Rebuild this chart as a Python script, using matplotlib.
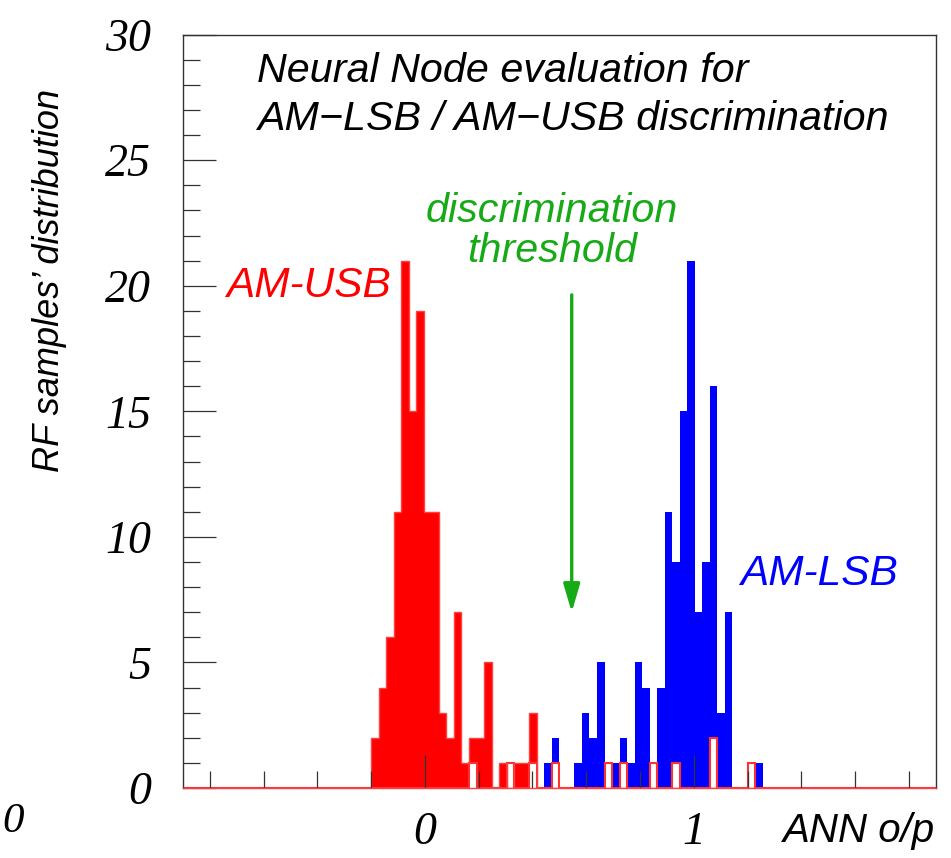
import numpy as np
import matplotlib
matplotlib.use("Agg")
import matplotlib.pyplot as plt
from matplotlib.ticker import MultipleLocator, FixedLocator

# histogram binning (ANN output)
n_bins = 100
x_lo, x_hi = -0.9, 1.9

# AM-USB samples (red), counts from bin 25 on
usb_first_bin = 25
usb_counts = [2, 4, 6, 11, 21, 15, 19, 11, 11, 3, 2, 7, 1, 2, 2, 5, 0, 1, 0, 1, 1, 3]

# AM-LSB samples (blue), counts from bin 43 on
lsb_first_bin = 43
lsb_counts = [1, 0, 0, 0, 0, 1, 2, 0, 0, 1, 3, 2, 5, 0, 1, 2, 1, 5, 4, 0,
              4, 11, 9, 15, 21, 7, 9, 16, 3, 7, 0, 0, 0, 1]

# hollow red boxes drawn on top, counts from bin 38 on
hollow_first_bin = 38
hollow_counts = [1, 0, 0, 0, 0, 1, 0, 0, 1, 0, 0, 1, 0, 0, 0, 0, 0, 0, 1, 0,
                 1, 0, 0, 0, 1, 0, 0, 1, 0, 0, 0, 0, 2, 0, 0, 0, 0, 1]

y_ticks = [0, 5, 10, 15, 20, 25, 30]
x_ticks = [0, 1]


def full_hist(first, counts):
    h = np.zeros(n_bins)
    h[first:first + len(counts)] = counts
    return h


edges = np.linspace(x_lo, x_hi, n_bins + 1)
h_usb = full_hist(usb_first_bin, usb_counts)
h_lsb = full_hist(lsb_first_bin, lsb_counts)
h_hollow = full_hist(hollow_first_bin, hollow_counts)

plt.rcParams['font.family'] = ['Liberation Sans', 'DejaVu Sans']

fig = plt.figure(figsize=(9.51, 8.58), dpi=100)
ax = fig.add_axes([183 / 951, 1 - 788 / 858, (935.7 - 183) / 951, (788 - 34.7) / 858])

ax.stairs(h_usb, edges, fill=True, color="#ff0000", linewidth=0)
ax.stairs(h_lsb, edges, fill=True, color="#0000ff", linewidth=0)
ax.stairs(h_hollow, edges, fill=True, facecolor="white", edgecolor="#ff3030", linewidth=1.5)
ax.stairs(h_usb, edges, color="#ff4040", linewidth=1.0)

ax.set_xlim(x_lo, x_hi)
ax.set_ylim(0, 30)

ax.yaxis.set_major_locator(FixedLocator(y_ticks))
ax.yaxis.set_minor_locator(MultipleLocator(1))
ax.xaxis.set_major_locator(FixedLocator(x_ticks))
ax.xaxis.set_minor_locator(MultipleLocator(0.2))

ax.tick_params(axis="both", which="major", direction="in", length=24, width=0.9, color="#333333")
ax.tick_params(axis="both", which="minor", direction="in", length=12, width=0.9, color="#333333")
ax.tick_params(axis="y", which="major", pad=23)
ax.tick_params(axis="x", which="major", pad=17)
for lab in ax.get_xticklabels() + ax.get_yticklabels():
    lab.set_fontfamily("Liberation Serif")
    lab.set_fontstyle("italic")
    lab.set_fontsize(33)

for s in ax.spines.values():
    s.set_linewidth(1.0)
    s.set_color("#333333")
ax.spines["bottom"].set_color("#ff4040")

fs = 29.7
ax.text(-0.626, 28.13, "Neural Node evaluation for", fontsize=fs, style="italic", va="baseline")
ax.text(-0.626, 26.2, "AM\u2212LSB / AM\u2212USB discrimination", fontsize=fs, style="italic", va="baseline")

ax.text(-0.738, 19.56, "AM-USB", fontsize=30.5, style="italic", color="#ff0000", va="baseline")
ax.text(1.173, 8.09, "AM-LSB", fontsize=30.5, style="italic", color="#0000ff", va="baseline")

green = "#17aa17"
ax.text(0.472, 22.55, "discrimination", fontsize=fs, style="italic", color=green,
        ha="center", va="baseline")
ax.text(0.472, 20.96, "threshold", fontsize=fs, style="italic", color=green,
        ha="center", va="baseline")
ax.annotate("", xy=(0.546, 7.0), xytext=(0.546, 19.64),
            arrowprops=dict(arrowstyle="-|>,head_length=1.7,head_width=0.5",
                            color=green, linewidth=2.4, shrinkA=0, shrinkB=0))

fig.text(50 / 951, 1 - 280 / 858, "RF samples\u2019 distribution", fontsize=26, style="italic",
         rotation=90, ha="center", va="center")
fig.text(935 / 951, 1 - 842 / 858, "ANN o/p", fontsize=29, style="italic",
         ha="right", va="baseline")
fig.text(2 / 951, 1 - 822 / 858, "0", fontsize=31, style="italic", family="Liberation Serif",
         ha="left", va="center")

fig.savefig("out.png", dpi=100)
